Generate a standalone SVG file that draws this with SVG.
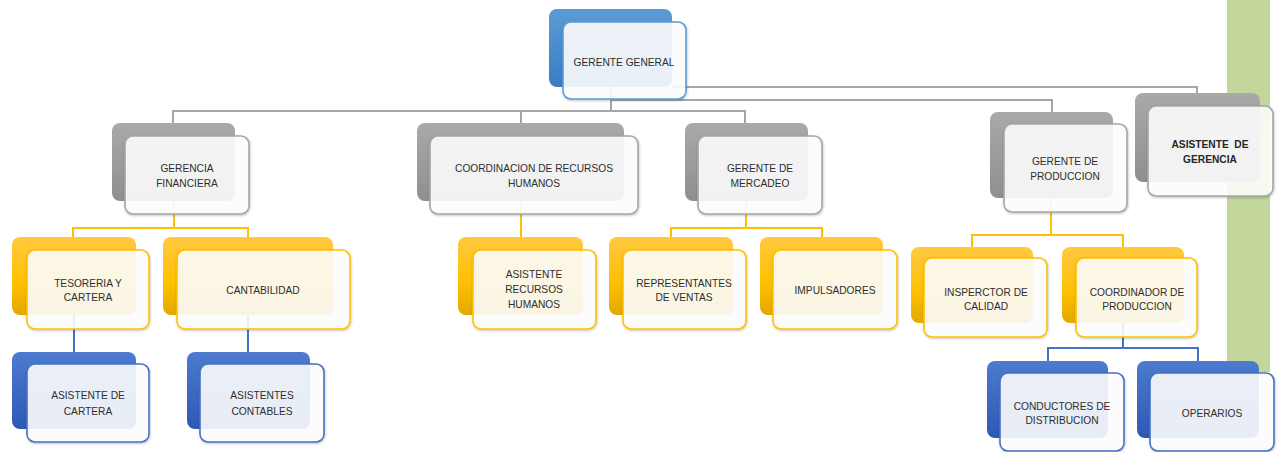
<svg xmlns="http://www.w3.org/2000/svg" width="1282" height="452" viewBox="0 0 1282 452">
<defs>
<linearGradient id="gGray" x1="0" y1="0" x2="0" y2="1"><stop offset="0" stop-color="#a9a9a9"/><stop offset="1" stop-color="#8f8f8f"/></linearGradient>
<linearGradient id="gBlue1" x1="0" y1="0" x2="0" y2="1"><stop offset="0" stop-color="#5b9bd5"/><stop offset="1" stop-color="#3a7cc6"/></linearGradient>
<linearGradient id="gYel" x1="0" y1="0" x2="0" y2="1"><stop offset="0" stop-color="#ffc941"/><stop offset="0.6" stop-color="#ffc000"/><stop offset="1" stop-color="#e3a700"/></linearGradient>
<linearGradient id="gBlue2" x1="0" y1="0" x2="0" y2="1"><stop offset="0" stop-color="#4c7bcf"/><stop offset="1" stop-color="#2d59b5"/></linearGradient>
<filter id="sh" x="-10%" y="-10%" width="130%" height="130%"><feDropShadow dx="0.5" dy="1" stdDeviation="0.8" flood-color="#000" flood-opacity="0.25"/></filter>
</defs>
<style>
.back{stroke:none}
.front{fill:#ffffff;fill-opacity:0.88;stroke-width:1.6;filter:url(#sh)}
.gray .back{fill:url(#gGray)} .gray .front{stroke:#a6a6a6}
.blue1 .back{fill:url(#gBlue1)} .blue1 .front{stroke:#5b9bd5}
.yel .back{fill:url(#gYel)} .yel .front{stroke:#ffc000}
.blue2 .back{fill:url(#gBlue2)} .blue2 .front{stroke:#4472c4}
text{font-family:"Liberation Sans",Arial,sans-serif;font-size:10.2px;fill:#2e2e2e;text-anchor:middle}
.b{font-weight:bold;fill:#262626;white-space:pre}
.cg{fill:none;stroke:#a6a6a6;stroke-width:2}
.cy{fill:none;stroke:#ffc000;stroke-width:2}
.cb{fill:none;stroke:#4472c4;stroke-width:2}
</style>
<rect x="1227" y="0" width="43" height="372" fill="#c3d69b"/>
<g id="connectors">
<path class="cg" d="M611,87 V111 M173,123 V111 H745 V123 M521,111 V123 M611,100 H1052 V112 M672,87 H1197 V93"/>
<path class="cy" d="M174,200 V228 M73,237 V228 H248 V237 M521,200 V237 M746,200 V228 M671,237 V228 H822 V237 M1051,198 V235 M972,247 V235 H1123 V247"/>
<path class="cb" d="M74,315 V352 M248,315 V352 M1123,323 V348 M1048,361 V348 H1198 V361"/>
</g>
<g id="n-gerente-general" class="blue1"><rect class="back" x="549" y="9" width="123" height="78" rx="8"/><rect class="front" x="563" y="22" width="123" height="77" rx="8"/><text x="624" y="65.5">GERENTE GENERAL</text></g>
<g id="n-gerencia-financiera" class="gray"><rect class="back" x="112" y="123" width="123" height="78" rx="8"/><rect class="front" x="125" y="136" width="124" height="78" rx="8"/><text x="187" y="171.5">GERENCIA</text><text x="187" y="186.5">FINANCIERA</text></g>
<g id="n-coord-rrhh" class="gray"><rect class="back" x="417" y="123" width="207" height="78" rx="8"/><rect class="front" x="430" y="136" width="208" height="78" rx="8"/><text x="534" y="171.5">COORDINACION DE RECURSOS</text><text x="534" y="186.5">HUMANOS</text></g>
<g id="n-gerente-mercadeo" class="gray"><rect class="back" x="685" y="123" width="123" height="78" rx="8"/><rect class="front" x="698" y="136" width="124" height="78" rx="8"/><text x="760" y="171.5">GERENTE DE</text><text x="760" y="186.5">MERCADEO</text></g>
<g id="n-gerente-produccion" class="gray"><rect class="back" x="990" y="112" width="123" height="86" rx="8"/><rect class="front" x="1004" y="124" width="123" height="88" rx="8"/><text x="1065" y="164.5">GERENTE DE</text><text x="1065" y="179.5">PRODUCCION</text></g>
<g id="n-asistente-gerencia" class="gray"><rect class="back" x="1135" y="93" width="125" height="89" rx="8"/><rect class="front" x="1148" y="106" width="125" height="90" rx="8"/><text class="b" x="1210" y="148">ASISTENTE  DE</text><text class="b" x="1210" y="162.5">GERENCIA</text></g>
<g id="n-tesoreria" class="yel"><rect class="back" x="12" y="237" width="124" height="78" rx="8"/><rect class="front" x="27" y="250" width="122" height="79" rx="8"/><text x="88" y="286.5">TESORERIA Y</text><text x="88" y="300.5">CARTERA</text></g>
<g id="n-cantabilidad" class="yel"><rect class="back" x="163" y="237" width="170" height="78" rx="8"/><rect class="front" x="177" y="250" width="173" height="79" rx="8"/><text x="263" y="293.5">CANTABILIDAD</text></g>
<g id="n-asistente-rrhh" class="yel"><rect class="back" x="458" y="237" width="125" height="78" rx="8"/><rect class="front" x="473" y="250" width="123" height="79" rx="8"/><text x="534" y="277.5">ASISTENTE</text><text x="534" y="292.5">RECURSOS</text><text x="534" y="307.5">HUMANOS</text></g>
<g id="n-representantes" class="yel"><rect class="back" x="609" y="237" width="124" height="78" rx="8"/><rect class="front" x="623" y="250" width="123" height="79" rx="8"/><text x="684" y="286.5">REPRESENTANTES</text><text x="684" y="300.5">DE VENTAS</text></g>
<g id="n-impulsadores" class="yel"><rect class="back" x="760" y="237" width="123" height="78" rx="8"/><rect class="front" x="773" y="250" width="124" height="79" rx="8"/><text x="835" y="293.5">IMPULSADORES</text></g>
<g id="n-inspector" class="yel"><rect class="back" x="911" y="247" width="122" height="76" rx="8"/><rect class="front" x="924" y="258" width="123" height="79" rx="8"/><text x="986" y="295.5">INSPERCTOR DE</text><text x="986" y="309.5">CALIDAD</text></g>
<g id="n-coord-produccion" class="yel"><rect class="back" x="1062" y="247" width="122" height="76" rx="8"/><rect class="front" x="1076" y="258" width="121" height="79" rx="8"/><text x="1137" y="295.5">COORDINADOR DE</text><text x="1137" y="309.5">PRODUCCION</text></g>
<g id="n-asistente-cartera" class="blue2"><rect class="back" x="12" y="352" width="124" height="77" rx="8"/><rect class="front" x="27" y="364" width="122" height="78" rx="8"/><text x="88" y="398.5">ASISTENTE DE</text><text x="88" y="414.5">CARTERA</text></g>
<g id="n-asistentes-contables" class="blue2"><rect class="back" x="187" y="352" width="123" height="77" rx="8"/><rect class="front" x="200" y="364" width="124" height="78" rx="8"/><text x="262" y="398.5">ASISTENTES</text><text x="262" y="414.5">CONTABLES</text></g>
<g id="n-conductores" class="blue2"><rect class="back" x="987" y="361" width="121" height="77" rx="8"/><rect class="front" x="1000" y="373" width="124" height="78" rx="8"/><text x="1062" y="409.5">CONDUCTORES DE</text><text x="1062" y="423.5">DISTRIBUCION</text></g>
<g id="n-operarios" class="blue2"><rect class="back" x="1137" y="361" width="122" height="77" rx="8"/><rect class="front" x="1150" y="373" width="124" height="78" rx="8"/><text x="1212" y="416.5">OPERARIOS</text></g>
</svg>
